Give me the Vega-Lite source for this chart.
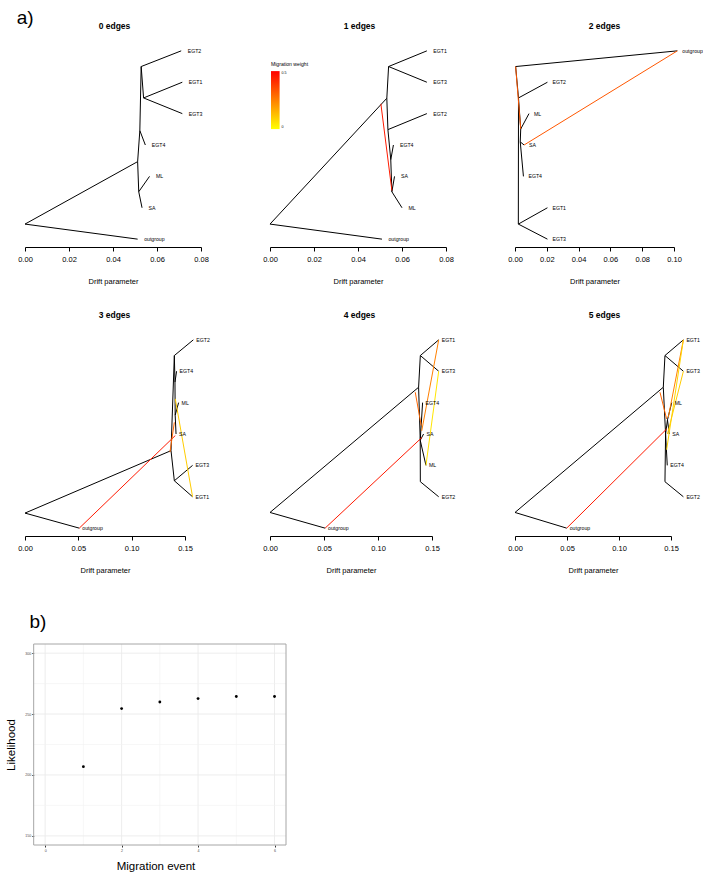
{
"$schema": "https://vega.github.io/schema/vega-lite/v6.json",
"padding": {"left": 5, "top": 8, "right": 0, "bottom": 0},
"config": {
  "font": "Liberation Sans",
  "view": {"stroke": null},
  "axis": {"labelFontSize": 7.5, "labelColor": "#000", "titleFontSize": 7.5, "titleFontWeight": "normal", "titleColor": "#000", "tickColor": "#000", "domainColor": "#000", "tickSize": 4, "labelPadding": 4, "titlePadding": 15, "grid": false, "labelFlush": false, "labelOverlap": false},
  "title": {"fontSize": 8.5, "fontWeight": "bold", "color": "#000", "offset": 13, "frame": "group", "anchor": "middle"},
  "legend": {"gradientVerticalMinLength": 10}
},
"datasets": {
  "e1": [
    {"x":0,"y":0.48,"x2":0.0512,"y2":0},
    {"x":0,"y":0.48,"x2":0.0512,"y2":2.47},
    {"x":0.0512,"y":2.47,"x2":0.0517,"y2":1.51},
    {"x":0.0517,"y":1.51,"x2":0.0566,"y2":2},
    {"x":0.0517,"y":1.51,"x2":0.0532,"y2":1},
    {"x":0.0512,"y":2.47,"x2":0.0522,"y2":3.46},
    {"x":0.0522,"y":3.46,"x2":0.0547,"y2":3},
    {"x":0.0522,"y":3.46,"x2":0.0528,"y2":5.5},
    {"x":0.0528,"y":5.5,"x2":0.071,"y2":6},
    {"x":0.0528,"y":5.5,"x2":0.0539,"y2":4.5},
    {"x":0.0539,"y":4.5,"x2":0.0715,"y2":5},
    {"x":0.0539,"y":4.5,"x2":0.0715,"y2":4}
  ],
  "t1": [
    {"x":0.071,"y":6,"label":"EGT2"},{"x":0.0715,"y":5,"label":"EGT1"},{"x":0.0715,"y":4,"label":"EGT3"},
    {"x":0.0547,"y":3,"label":"EGT4"},{"x":0.0566,"y":2,"label":"ML"},{"x":0.0532,"y":1,"label":"SA"},{"x":0.0512,"y":0,"label":"outgroup"}
  ],
  "e2": [
    {"x":0,"y":0.48,"x2":0.0509,"y2":0},
    {"x":0,"y":0.48,"x2":0.0531,"y2":4.49},
    {"x":0.0531,"y":4.49,"x2":0.0539,"y2":5.5},
    {"x":0.0539,"y":5.5,"x2":0.0713,"y2":6},
    {"x":0.0539,"y":5.5,"x2":0.0713,"y2":5},
    {"x":0.0531,"y":4.49,"x2":0.0536,"y2":3.49},
    {"x":0.0536,"y":3.49,"x2":0.0713,"y2":4},
    {"x":0.0536,"y":3.49,"x2":0.0549,"y2":2.53},
    {"x":0.0549,"y":2.53,"x2":0.0561,"y2":3},
    {"x":0.0549,"y":2.53,"x2":0.0554,"y2":1.51},
    {"x":0.0554,"y":1.51,"x2":0.0566,"y2":2},
    {"x":0.0554,"y":1.51,"x2":0.06,"y2":1}
  ],
  "m2": [{"x":0.0504,"y":4.31,"x2":0.0554,"y2":1.55,"w":0.45}],
  "t2": [
    {"x":0.0713,"y":6,"label":"EGT1"},{"x":0.0713,"y":5,"label":"EGT3"},{"x":0.0713,"y":4,"label":"EGT2"},
    {"x":0.0561,"y":3,"label":"EGT4"},{"x":0.0566,"y":2,"label":"SA"},{"x":0.06,"y":1,"label":"ML"},{"x":0.0509,"y":0,"label":"outgroup"}
  ],
  "e3": [
    {"x":0.0004,"y":5.5,"x2":0.1021,"y2":6},
    {"x":0.0004,"y":5.5,"x2":0.0022,"y2":4.5},
    {"x":0.0022,"y":4.5,"x2":0.0204,"y2":5},
    {"x":0.0022,"y":4.5,"x2":0.0021,"y2":0.48},
    {"x":0.0021,"y":0.48,"x2":0.0204,"y2":1},
    {"x":0.0021,"y":0.48,"x2":0.0204,"y2":0},
    {"x":0.0022,"y":4.5,"x2":0.0036,"y2":3.51},
    {"x":0.0036,"y":3.51,"x2":0.0088,"y2":4},
    {"x":0.0036,"y":3.51,"x2":0.0033,"y2":3.1},
    {"x":0.0033,"y":3.1,"x2":0.0057,"y2":3},
    {"x":0.0033,"y":3.1,"x2":0.0053,"y2":2}
  ],
  "m3": [{"x":0.0004,"y":5.5,"x2":0.0036,"y2":3.51,"w":0.33},{"x":0.0057,"y":3.0,"x2":0.1021,"y2":6,"w":0.33}],
  "t3": [
    {"x":0.1021,"y":6,"label":"outgroup"},{"x":0.0204,"y":5,"label":"EGT2"},{"x":0.0088,"y":4,"label":"ML"},
    {"x":0.0057,"y":3,"label":"SA"},{"x":0.0053,"y":2,"label":"EGT4"},{"x":0.0204,"y":1,"label":"EGT1"},{"x":0.0204,"y":0,"label":"EGT3"}
  ],
  "e4": [
    {"x":0,"y":0.48,"x2":0.0509,"y2":0},
    {"x":0,"y":0.48,"x2":0.1369,"y2":2.47},
    {"x":0.1369,"y":2.47,"x2":0.14,"y2":1.51},
    {"x":0.14,"y":1.51,"x2":0.1571,"y2":2},
    {"x":0.14,"y":1.51,"x2":0.1571,"y2":1},
    {"x":0.1369,"y":2.47,"x2":0.14,"y2":5.5},
    {"x":0.14,"y":5.5,"x2":0.1578,"y2":6},
    {"x":0.14,"y":5.5,"x2":0.1406,"y2":4.65},
    {"x":0.1406,"y":4.65,"x2":0.1421,"y2":5},
    {"x":0.1406,"y":4.65,"x2":0.1408,"y2":3.6},
    {"x":0.1408,"y":3.6,"x2":0.144,"y2":4},
    {"x":0.1408,"y":3.6,"x2":0.1416,"y2":3}
  ],
  "m4": [{"x":0.1409,"y":2.95,"x2":0.0509,"y2":0,"w":0.45},{"x":0.1409,"y":4.12,"x2":0.1571,"y2":1,"w":0.1},{"x":0.1359,"y":2.42,"x2":0.14,"y2":3.37,"w":0.3}],
  "t4": [
    {"x":0.1578,"y":6,"label":"EGT2"},{"x":0.1421,"y":5,"label":"EGT4"},{"x":0.144,"y":4,"label":"ML"},
    {"x":0.1416,"y":3,"label":"SA"},{"x":0.1571,"y":2,"label":"EGT3"},{"x":0.1571,"y":1,"label":"EGT1"},{"x":0.0509,"y":0,"label":"outgroup"}
  ],
  "e5": [
    {"x":0,"y":0.5,"x2":0.051,"y2":0},
    {"x":0,"y":0.5,"x2":0.1376,"y2":4.49},
    {"x":0.1376,"y":4.49,"x2":0.1392,"y2":5.5},
    {"x":0.1392,"y":5.5,"x2":0.1562,"y2":6},
    {"x":0.1392,"y":5.5,"x2":0.1562,"y2":5},
    {"x":0.1376,"y":4.49,"x2":0.1391,"y2":2.8},
    {"x":0.1391,"y":2.8,"x2":0.1392,"y2":1.48},
    {"x":0.1392,"y":1.48,"x2":0.1562,"y2":1},
    {"x":0.1391,"y":2.8,"x2":0.1413,"y2":4},
    {"x":0.1391,"y":2.8,"x2":0.1422,"y2":3},
    {"x":0.1391,"y":2.8,"x2":0.1444,"y2":2}
  ],
  "m5": [{"x":0.1407,"y":2.89,"x2":0.051,"y2":0,"w":0.45},{"x":0.1405,"y":3.1,"x2":0.1562,"y2":6,"w":0.25},{"x":0.1562,"y":5,"x2":0.1444,"y2":2,"w":0.05},{"x":0.1345,"y":4.33,"x2":0.14,"y2":3.27,"w":0.3}],
  "t5": [
    {"x":0.1562,"y":6,"label":"EGT1"},{"x":0.1562,"y":5,"label":"EGT3"},{"x":0.1413,"y":4,"label":"EGT4"},
    {"x":0.1422,"y":3,"label":"SA"},{"x":0.1444,"y":2,"label":"ML"},{"x":0.1562,"y":1,"label":"EGT2"},{"x":0.051,"y":0,"label":"outgroup"}
  ],
  "e6": [
    {"x":0,"y":0.5,"x2":0.0497,"y2":0},
    {"x":0,"y":0.5,"x2":0.1426,"y2":4.49},
    {"x":0.1426,"y":4.49,"x2":0.1442,"y2":5.5},
    {"x":0.1442,"y":5.5,"x2":0.1619,"y2":6},
    {"x":0.1442,"y":5.5,"x2":0.1619,"y2":5},
    {"x":0.1426,"y":4.49,"x2":0.1448,"y2":3.0},
    {"x":0.1448,"y":3.0,"x2":0.1442,"y2":1.48},
    {"x":0.1442,"y":1.48,"x2":0.1619,"y2":1},
    {"x":0.1448,"y":3.0,"x2":0.1464,"y2":2},
    {"x":0.1448,"y":3.0,"x2":0.1466,"y2":3.45},
    {"x":0.1466,"y":3.45,"x2":0.1507,"y2":4},
    {"x":0.1466,"y":3.45,"x2":0.1484,"y2":3}
  ],
  "m6": [{"x":0.1458,"y":3.16,"x2":0.0497,"y2":0,"w":0.45},{"x":0.1474,"y":3.53,"x2":0.1619,"y2":6,"w":0.25},{"x":0.1458,"y":2.5,"x2":0.1619,"y2":6,"w":0.08},{"x":0.1466,"y":3.0,"x2":0.1619,"y2":5,"w":0.1},{"x":0.1394,"y":4.33,"x2":0.1458,"y2":3.48,"w":0.3}],
  "t6": [
    {"x":0.1619,"y":6,"label":"EGT1"},{"x":0.1619,"y":5,"label":"EGT3"},{"x":0.1507,"y":4,"label":"ML"},
    {"x":0.1484,"y":3,"label":"SA"},{"x":0.1464,"y":2,"label":"EGT4"},{"x":0.1619,"y":1,"label":"EGT2"},{"x":0.0497,"y":0,"label":"outgroup"}
  ],
  "lik": [
    {"event":1,"likelihood":206.8},{"event":2,"likelihood":254.5},{"event":3,"likelihood":259.9},
    {"event":4,"likelihood":262.7},{"event":5,"likelihood":264.4},{"event":6,"likelihood":264.4}
  ]
},
"spacing": 38,
"vconcat": [
{
  "title": {"text": "a)", "anchor": "start", "frame": "bounds", "fontSize": 19, "fontWeight": "normal", "offset": -6, "dx": -1},
  "columns": 3,
  "bounds": "flush",
  "spacing": {"row": 85, "column": 69},
  "resolve": {"scale": {"color": "independent"}, "legend": {"color": "independent"}},
  "concat": [
  {
    "title": {"text": "0 edges", "dx": 1.5},
    "width": 176, "height": 204,
    "layer": [
      {"data": {"name": "e1"}, "mark": {"type": "rule", "color": "#000", "strokeWidth": 1},
       "encoding": {
         "x": {"field": "x", "type": "quantitative", "scale": {"domain": [0, 0.08], "nice": false, "zero": false}, "axis": {"values": [0, 0.02, 0.04, 0.06, 0.08], "format": ".2f", "title": "Drift parameter"}},
         "x2": {"field": "x2"},
         "y": {"field": "y", "type": "quantitative", "scale": {"domain": [-0.25, 6.25], "nice": false, "zero": false}, "axis": null},
         "y2": {"field": "y2"}}},
      {"data": {"name": "t1"}, "mark": {"type": "text", "align": "left", "baseline": "middle", "dx": 6.5, "fontSize": 5.2, "color": "#000"},
       "encoding": {
         "x": {"field": "x", "type": "quantitative", "scale": {"domain": [0, 0.08], "nice": false, "zero": false}, "axis": {"values": [0, 0.02, 0.04, 0.06, 0.08], "format": ".2f", "title": "Drift parameter"}},
         "y": {"field": "y", "type": "quantitative", "scale": {"domain": [-0.25, 6.25], "nice": false, "zero": false}, "axis": null},
         "text": {"field": "label"}}}
    ]
  },
  {
    "title": {"text": "1 edges", "dx": 1.5},
    "width": 176, "height": 204,
    "layer": [
      {"data": {"name": "e2"}, "mark": {"type": "rule", "color": "#000", "strokeWidth": 1},
       "encoding": {
         "x": {"field": "x", "type": "quantitative", "scale": {"domain": [0, 0.08], "nice": false, "zero": false}, "axis": {"values": [0, 0.02, 0.04, 0.06, 0.08], "format": ".2f", "title": "Drift parameter"}},
         "x2": {"field": "x2"},
         "y": {"field": "y", "type": "quantitative", "scale": {"domain": [-0.25, 6.25], "nice": false, "zero": false}, "axis": null},
         "y2": {"field": "y2"}}},
      {"data": {"name": "m2"}, "mark": {"type": "rule", "strokeWidth": 1},
       "encoding": {
         "x": {"field": "x", "type": "quantitative", "scale": {"domain": [0, 0.08], "nice": false, "zero": false}, "axis": {"values": [0, 0.02, 0.04, 0.06, 0.08], "format": ".2f", "title": "Drift parameter"}},
         "x2": {"field": "x2"},
         "y": {"field": "y", "type": "quantitative", "scale": {"domain": [-0.25, 6.25], "nice": false, "zero": false}, "axis": null},
         "y2": {"field": "y2"},
         "color": {"field": "w", "type": "quantitative", "scale": {"domain": [0, 0.5], "range": ["#ffff00", "#ff0000"], "interpolate": "rgb"},
           "legend": {"orient": "none", "legendX": 1, "legendY": 19, "direction": "vertical", "title": "Migration weight", "titleFontSize": 5.1, "titleFontWeight": "normal", "titleColor": "#000", "titlePadding": 4, "gradientLength": 58, "gradientThickness": 8.6, "gradientStrokeWidth": 0, "labelFontSize": 3.6, "labelColor": "#000", "labelOffset": 2, "values": [0, 0.5], "format": "~g", "padding": 0, "labelOverlap": false}}}},
      {"data": {"name": "t2"}, "mark": {"type": "text", "align": "left", "baseline": "middle", "dx": 6.5, "fontSize": 5.2, "color": "#000"},
       "encoding": {
         "x": {"field": "x", "type": "quantitative", "scale": {"domain": [0, 0.08], "nice": false, "zero": false}, "axis": {"values": [0, 0.02, 0.04, 0.06, 0.08], "format": ".2f", "title": "Drift parameter"}},
         "y": {"field": "y", "type": "quantitative", "scale": {"domain": [-0.25, 6.25], "nice": false, "zero": false}, "axis": null},
         "text": {"field": "label"}}}
    ]
  },
  {
    "title": {"text": "2 edges", "dx": 10},
    "width": 159, "height": 204,
    "layer": [
      {"data": {"name": "e3"}, "mark": {"type": "rule", "color": "#000", "strokeWidth": 1},
       "encoding": {
         "x": {"field": "x", "type": "quantitative", "scale": {"domain": [0, 0.1], "nice": false, "zero": false}, "axis": {"values": [0, 0.02, 0.04, 0.06, 0.08, 0.1], "format": ".2f", "title": "Drift parameter"}},
         "x2": {"field": "x2"},
         "y": {"field": "y", "type": "quantitative", "scale": {"domain": [-0.25, 6.25], "nice": false, "zero": false}, "axis": null},
         "y2": {"field": "y2"}}},
      {"data": {"name": "m3"}, "mark": {"type": "rule", "strokeWidth": 1},
       "encoding": {
         "x": {"field": "x", "type": "quantitative", "scale": {"domain": [0, 0.1], "nice": false, "zero": false}, "axis": {"values": [0, 0.02, 0.04, 0.06, 0.08, 0.1], "format": ".2f", "title": "Drift parameter"}},
         "x2": {"field": "x2"},
         "y": {"field": "y", "type": "quantitative", "scale": {"domain": [-0.25, 6.25], "nice": false, "zero": false}, "axis": null},
         "y2": {"field": "y2"},
         "color": {"field": "w", "type": "quantitative", "scale": {"domain": [0, 0.5], "range": ["#ffff00", "#ff0000"], "interpolate": "rgb"}, "legend": null}}},
      {"data": {"name": "t3"}, "mark": {"type": "text", "align": "left", "baseline": "middle", "dx": 5, "fontSize": 5.2, "color": "#000"},
       "encoding": {
         "x": {"field": "x", "type": "quantitative", "scale": {"domain": [0, 0.1], "nice": false, "zero": false}, "axis": {"values": [0, 0.02, 0.04, 0.06, 0.08, 0.1], "format": ".2f", "title": "Drift parameter"}},
         "y": {"field": "y", "type": "quantitative", "scale": {"domain": [-0.25, 6.25], "nice": false, "zero": false}, "axis": null},
         "text": {"field": "label"}}}
    ]
  },
  {
    "title": {"text": "3 edges", "dx": 9.5},
    "width": 160, "height": 204,
    "layer": [
      {"data": {"name": "e4"}, "mark": {"type": "rule", "color": "#000", "strokeWidth": 1},
       "encoding": {
         "x": {"field": "x", "type": "quantitative", "scale": {"domain": [0, 0.15], "nice": false, "zero": false}, "axis": {"values": [0, 0.05, 0.1, 0.15], "format": ".2f", "title": "Drift parameter"}},
         "x2": {"field": "x2"},
         "y": {"field": "y", "type": "quantitative", "scale": {"domain": [-0.25, 6.25], "nice": false, "zero": false}, "axis": null},
         "y2": {"field": "y2"}}},
      {"data": {"name": "m4"}, "mark": {"type": "rule", "strokeWidth": 1},
       "encoding": {
         "x": {"field": "x", "type": "quantitative", "scale": {"domain": [0, 0.15], "nice": false, "zero": false}, "axis": {"values": [0, 0.05, 0.1, 0.15], "format": ".2f", "title": "Drift parameter"}},
         "x2": {"field": "x2"},
         "y": {"field": "y", "type": "quantitative", "scale": {"domain": [-0.25, 6.25], "nice": false, "zero": false}, "axis": null},
         "y2": {"field": "y2"},
         "color": {"field": "w", "type": "quantitative", "scale": {"domain": [0, 0.5], "range": ["#ffff00", "#ff0000"], "interpolate": "rgb"}, "legend": null}}},
      {"data": {"name": "t4"}, "mark": {"type": "text", "align": "left", "baseline": "middle", "dx": 3, "fontSize": 5.2, "color": "#000"},
       "encoding": {
         "x": {"field": "x", "type": "quantitative", "scale": {"domain": [0, 0.15], "nice": false, "zero": false}, "axis": {"values": [0, 0.05, 0.1, 0.15], "format": ".2f", "title": "Drift parameter"}},
         "y": {"field": "y", "type": "quantitative", "scale": {"domain": [-0.25, 6.25], "nice": false, "zero": false}, "axis": null},
         "text": {"field": "label"}}}
    ]
  },
  {
    "title": {"text": "4 edges", "dx": 8.5},
    "width": 162, "height": 204,
    "layer": [
      {"data": {"name": "e5"}, "mark": {"type": "rule", "color": "#000", "strokeWidth": 1},
       "encoding": {
         "x": {"field": "x", "type": "quantitative", "scale": {"domain": [0, 0.15], "nice": false, "zero": false}, "axis": {"values": [0, 0.05, 0.1, 0.15], "format": ".2f", "title": "Drift parameter"}},
         "x2": {"field": "x2"},
         "y": {"field": "y", "type": "quantitative", "scale": {"domain": [-0.25, 6.25], "nice": false, "zero": false}, "axis": null},
         "y2": {"field": "y2"}}},
      {"data": {"name": "m5"}, "mark": {"type": "rule", "strokeWidth": 1},
       "encoding": {
         "x": {"field": "x", "type": "quantitative", "scale": {"domain": [0, 0.15], "nice": false, "zero": false}, "axis": {"values": [0, 0.05, 0.1, 0.15], "format": ".2f", "title": "Drift parameter"}},
         "x2": {"field": "x2"},
         "y": {"field": "y", "type": "quantitative", "scale": {"domain": [-0.25, 6.25], "nice": false, "zero": false}, "axis": null},
         "y2": {"field": "y2"},
         "color": {"field": "w", "type": "quantitative", "scale": {"domain": [0, 0.5], "range": ["#ffff00", "#ff0000"], "interpolate": "rgb"}, "legend": null}}},
      {"data": {"name": "t5"}, "mark": {"type": "text", "align": "left", "baseline": "middle", "dx": 3, "fontSize": 5.2, "color": "#000"},
       "encoding": {
         "x": {"field": "x", "type": "quantitative", "scale": {"domain": [0, 0.15], "nice": false, "zero": false}, "axis": {"values": [0, 0.05, 0.1, 0.15], "format": ".2f", "title": "Drift parameter"}},
         "y": {"field": "y", "type": "quantitative", "scale": {"domain": [-0.25, 6.25], "nice": false, "zero": false}, "axis": null},
         "text": {"field": "label"}}}
    ]
  },
  {
    "title": {"text": "5 edges", "dx": 11.5},
    "width": 156, "height": 204,
    "layer": [
      {"data": {"name": "e6"}, "mark": {"type": "rule", "color": "#000", "strokeWidth": 1},
       "encoding": {
         "x": {"field": "x", "type": "quantitative", "scale": {"domain": [0, 0.15], "nice": false, "zero": false}, "axis": {"values": [0, 0.05, 0.1, 0.15], "format": ".2f", "title": "Drift parameter"}},
         "x2": {"field": "x2"},
         "y": {"field": "y", "type": "quantitative", "scale": {"domain": [-0.25, 6.25], "nice": false, "zero": false}, "axis": null},
         "y2": {"field": "y2"}}},
      {"data": {"name": "m6"}, "mark": {"type": "rule", "strokeWidth": 1},
       "encoding": {
         "x": {"field": "x", "type": "quantitative", "scale": {"domain": [0, 0.15], "nice": false, "zero": false}, "axis": {"values": [0, 0.05, 0.1, 0.15], "format": ".2f", "title": "Drift parameter"}},
         "x2": {"field": "x2"},
         "y": {"field": "y", "type": "quantitative", "scale": {"domain": [-0.25, 6.25], "nice": false, "zero": false}, "axis": null},
         "y2": {"field": "y2"},
         "color": {"field": "w", "type": "quantitative", "scale": {"domain": [0, 0.5], "range": ["#ffff00", "#ff0000"], "interpolate": "rgb"}, "legend": null}}},
      {"data": {"name": "t6"}, "mark": {"type": "text", "align": "left", "baseline": "middle", "dx": 3, "fontSize": 5.2, "color": "#000"},
       "encoding": {
         "x": {"field": "x", "type": "quantitative", "scale": {"domain": [0, 0.15], "nice": false, "zero": false}, "axis": {"values": [0, 0.05, 0.1, 0.15], "format": ".2f", "title": "Drift parameter"}},
         "y": {"field": "y", "type": "quantitative", "scale": {"domain": [-0.25, 6.25], "nice": false, "zero": false}, "axis": null},
         "text": {"field": "label"}}}
    ]
  }
  ]
},
{
  "title": {"text": "b)", "anchor": "start", "frame": "group", "fontSize": 19, "fontWeight": "normal", "dx": 4.5, "offset": 12},
  "width": 261, "height": 201,
  "layer": [
    {"data": {"values": [{}]}, "mark": {"type": "rule", "color": "#f2f2f2", "strokeWidth": 0.6}, "encoding": {"x": {"datum": 1, "type": "quantitative", "scale": {"domain": [-0.527, 6.3], "nice": false, "zero": false}, "axis": {"values": [0, 2, 4, 6], "format": "d", "title": "Migration event", "domain": false, "grid": false, "tickSize": 2, "tickColor": "#333", "labelFontSize": 3.6, "labelColor": "#4d4d4d", "labelPadding": 1, "titleFontSize": 11.5, "titlePadding": 9}}}},
    {"data": {"values": [{}]}, "mark": {"type": "rule", "color": "#f2f2f2", "strokeWidth": 0.6}, "encoding": {"x": {"datum": 3, "type": "quantitative", "scale": {"domain": [-0.527, 6.3], "nice": false, "zero": false}, "axis": {"values": [0, 2, 4, 6], "format": "d", "title": "Migration event", "domain": false, "grid": false, "tickSize": 2, "tickColor": "#333", "labelFontSize": 3.6, "labelColor": "#4d4d4d", "labelPadding": 1, "titleFontSize": 11.5, "titlePadding": 9}}}},
    {"data": {"values": [{}]}, "mark": {"type": "rule", "color": "#f2f2f2", "strokeWidth": 0.6}, "encoding": {"x": {"datum": 5, "type": "quantitative", "scale": {"domain": [-0.527, 6.3], "nice": false, "zero": false}, "axis": {"values": [0, 2, 4, 6], "format": "d", "title": "Migration event", "domain": false, "grid": false, "tickSize": 2, "tickColor": "#333", "labelFontSize": 3.6, "labelColor": "#4d4d4d", "labelPadding": 1, "titleFontSize": 11.5, "titlePadding": 9}}}},
    {"data": {"values": [{}]}, "mark": {"type": "rule", "color": "#ebebeb", "strokeWidth": 0.9}, "encoding": {"x": {"datum": 0, "type": "quantitative", "scale": {"domain": [-0.527, 6.3], "nice": false, "zero": false}, "axis": {"values": [0, 2, 4, 6], "format": "d", "title": "Migration event", "domain": false, "grid": false, "tickSize": 2, "tickColor": "#333", "labelFontSize": 3.6, "labelColor": "#4d4d4d", "labelPadding": 1, "titleFontSize": 11.5, "titlePadding": 9}}}},
    {"data": {"values": [{}]}, "mark": {"type": "rule", "color": "#ebebeb", "strokeWidth": 0.9}, "encoding": {"x": {"datum": 2, "type": "quantitative", "scale": {"domain": [-0.527, 6.3], "nice": false, "zero": false}, "axis": {"values": [0, 2, 4, 6], "format": "d", "title": "Migration event", "domain": false, "grid": false, "tickSize": 2, "tickColor": "#333", "labelFontSize": 3.6, "labelColor": "#4d4d4d", "labelPadding": 1, "titleFontSize": 11.5, "titlePadding": 9}}}},
    {"data": {"values": [{}]}, "mark": {"type": "rule", "color": "#ebebeb", "strokeWidth": 0.9}, "encoding": {"x": {"datum": 4, "type": "quantitative", "scale": {"domain": [-0.527, 6.3], "nice": false, "zero": false}, "axis": {"values": [0, 2, 4, 6], "format": "d", "title": "Migration event", "domain": false, "grid": false, "tickSize": 2, "tickColor": "#333", "labelFontSize": 3.6, "labelColor": "#4d4d4d", "labelPadding": 1, "titleFontSize": 11.5, "titlePadding": 9}}}},
    {"data": {"values": [{}]}, "mark": {"type": "rule", "color": "#ebebeb", "strokeWidth": 0.9}, "encoding": {"x": {"datum": 6, "type": "quantitative", "scale": {"domain": [-0.527, 6.3], "nice": false, "zero": false}, "axis": {"values": [0, 2, 4, 6], "format": "d", "title": "Migration event", "domain": false, "grid": false, "tickSize": 2, "tickColor": "#333", "labelFontSize": 3.6, "labelColor": "#4d4d4d", "labelPadding": 1, "titleFontSize": 11.5, "titlePadding": 9}}}},
    {"data": {"values": [{}]}, "mark": {"type": "rule", "color": "#f2f2f2", "strokeWidth": 0.6}, "encoding": {"x": {"datum": -0.3, "type": "quantitative", "scale": {"domain": [-0.527, 6.3], "nice": false, "zero": false}, "axis": {"values": [0, 2, 4, 6], "format": "d", "title": "Migration event", "domain": false, "grid": false, "tickSize": 2, "tickColor": "#333", "labelFontSize": 3.6, "labelColor": "#4d4d4d", "labelPadding": 1, "titleFontSize": 11.5, "titlePadding": 9}}, "x2": {"datum": 6.3}, "y": {"datum": 175, "type": "quantitative", "scale": {"domain": [142.5, 307.5], "nice": false, "zero": false}, "axis": {"values": [150, 200, 250, 300], "format": "d", "title": "Likelihood", "domain": false, "grid": false, "offset": -8.8, "tickSize": 2, "tickColor": "#333", "labelFontSize": 3.6, "labelColor": "#4d4d4d", "labelPadding": 1, "titleFontSize": 11.5, "titlePadding": 8}}}},
    {"data": {"values": [{}]}, "mark": {"type": "rule", "color": "#f2f2f2", "strokeWidth": 0.6}, "encoding": {"x": {"datum": -0.3, "type": "quantitative", "scale": {"domain": [-0.527, 6.3], "nice": false, "zero": false}, "axis": {"values": [0, 2, 4, 6], "format": "d", "title": "Migration event", "domain": false, "grid": false, "tickSize": 2, "tickColor": "#333", "labelFontSize": 3.6, "labelColor": "#4d4d4d", "labelPadding": 1, "titleFontSize": 11.5, "titlePadding": 9}}, "x2": {"datum": 6.3}, "y": {"datum": 225, "type": "quantitative", "scale": {"domain": [142.5, 307.5], "nice": false, "zero": false}, "axis": {"values": [150, 200, 250, 300], "format": "d", "title": "Likelihood", "domain": false, "grid": false, "offset": -8.8, "tickSize": 2, "tickColor": "#333", "labelFontSize": 3.6, "labelColor": "#4d4d4d", "labelPadding": 1, "titleFontSize": 11.5, "titlePadding": 8}}}},
    {"data": {"values": [{}]}, "mark": {"type": "rule", "color": "#f2f2f2", "strokeWidth": 0.6}, "encoding": {"x": {"datum": -0.3, "type": "quantitative", "scale": {"domain": [-0.527, 6.3], "nice": false, "zero": false}, "axis": {"values": [0, 2, 4, 6], "format": "d", "title": "Migration event", "domain": false, "grid": false, "tickSize": 2, "tickColor": "#333", "labelFontSize": 3.6, "labelColor": "#4d4d4d", "labelPadding": 1, "titleFontSize": 11.5, "titlePadding": 9}}, "x2": {"datum": 6.3}, "y": {"datum": 275, "type": "quantitative", "scale": {"domain": [142.5, 307.5], "nice": false, "zero": false}, "axis": {"values": [150, 200, 250, 300], "format": "d", "title": "Likelihood", "domain": false, "grid": false, "offset": -8.8, "tickSize": 2, "tickColor": "#333", "labelFontSize": 3.6, "labelColor": "#4d4d4d", "labelPadding": 1, "titleFontSize": 11.5, "titlePadding": 8}}}},
    {"data": {"values": [{}]}, "mark": {"type": "rule", "color": "#ebebeb", "strokeWidth": 0.9}, "encoding": {"x": {"datum": -0.3, "type": "quantitative", "scale": {"domain": [-0.527, 6.3], "nice": false, "zero": false}, "axis": {"values": [0, 2, 4, 6], "format": "d", "title": "Migration event", "domain": false, "grid": false, "tickSize": 2, "tickColor": "#333", "labelFontSize": 3.6, "labelColor": "#4d4d4d", "labelPadding": 1, "titleFontSize": 11.5, "titlePadding": 9}}, "x2": {"datum": 6.3}, "y": {"datum": 150, "type": "quantitative", "scale": {"domain": [142.5, 307.5], "nice": false, "zero": false}, "axis": {"values": [150, 200, 250, 300], "format": "d", "title": "Likelihood", "domain": false, "grid": false, "offset": -8.8, "tickSize": 2, "tickColor": "#333", "labelFontSize": 3.6, "labelColor": "#4d4d4d", "labelPadding": 1, "titleFontSize": 11.5, "titlePadding": 8}}}},
    {"data": {"values": [{}]}, "mark": {"type": "rule", "color": "#ebebeb", "strokeWidth": 0.9}, "encoding": {"x": {"datum": -0.3, "type": "quantitative", "scale": {"domain": [-0.527, 6.3], "nice": false, "zero": false}, "axis": {"values": [0, 2, 4, 6], "format": "d", "title": "Migration event", "domain": false, "grid": false, "tickSize": 2, "tickColor": "#333", "labelFontSize": 3.6, "labelColor": "#4d4d4d", "labelPadding": 1, "titleFontSize": 11.5, "titlePadding": 9}}, "x2": {"datum": 6.3}, "y": {"datum": 200, "type": "quantitative", "scale": {"domain": [142.5, 307.5], "nice": false, "zero": false}, "axis": {"values": [150, 200, 250, 300], "format": "d", "title": "Likelihood", "domain": false, "grid": false, "offset": -8.8, "tickSize": 2, "tickColor": "#333", "labelFontSize": 3.6, "labelColor": "#4d4d4d", "labelPadding": 1, "titleFontSize": 11.5, "titlePadding": 8}}}},
    {"data": {"values": [{}]}, "mark": {"type": "rule", "color": "#ebebeb", "strokeWidth": 0.9}, "encoding": {"x": {"datum": -0.3, "type": "quantitative", "scale": {"domain": [-0.527, 6.3], "nice": false, "zero": false}, "axis": {"values": [0, 2, 4, 6], "format": "d", "title": "Migration event", "domain": false, "grid": false, "tickSize": 2, "tickColor": "#333", "labelFontSize": 3.6, "labelColor": "#4d4d4d", "labelPadding": 1, "titleFontSize": 11.5, "titlePadding": 9}}, "x2": {"datum": 6.3}, "y": {"datum": 250, "type": "quantitative", "scale": {"domain": [142.5, 307.5], "nice": false, "zero": false}, "axis": {"values": [150, 200, 250, 300], "format": "d", "title": "Likelihood", "domain": false, "grid": false, "offset": -8.8, "tickSize": 2, "tickColor": "#333", "labelFontSize": 3.6, "labelColor": "#4d4d4d", "labelPadding": 1, "titleFontSize": 11.5, "titlePadding": 8}}}},
    {"data": {"values": [{}]}, "mark": {"type": "rule", "color": "#ebebeb", "strokeWidth": 0.9}, "encoding": {"x": {"datum": -0.3, "type": "quantitative", "scale": {"domain": [-0.527, 6.3], "nice": false, "zero": false}, "axis": {"values": [0, 2, 4, 6], "format": "d", "title": "Migration event", "domain": false, "grid": false, "tickSize": 2, "tickColor": "#333", "labelFontSize": 3.6, "labelColor": "#4d4d4d", "labelPadding": 1, "titleFontSize": 11.5, "titlePadding": 9}}, "x2": {"datum": 6.3}, "y": {"datum": 300, "type": "quantitative", "scale": {"domain": [142.5, 307.5], "nice": false, "zero": false}, "axis": {"values": [150, 200, 250, 300], "format": "d", "title": "Likelihood", "domain": false, "grid": false, "offset": -8.8, "tickSize": 2, "tickColor": "#333", "labelFontSize": 3.6, "labelColor": "#4d4d4d", "labelPadding": 1, "titleFontSize": 11.5, "titlePadding": 8}}}},
    {"data": {"values": [{}]}, "mark": {"type": "rect", "filled": false, "color": "#a6a6a6", "strokeWidth": 1}, "encoding": {"x": {"datum": -0.3, "type": "quantitative", "scale": {"domain": [-0.527, 6.3], "nice": false, "zero": false}, "axis": {"values": [0, 2, 4, 6], "format": "d", "title": "Migration event", "domain": false, "grid": false, "tickSize": 2, "tickColor": "#333", "labelFontSize": 3.6, "labelColor": "#4d4d4d", "labelPadding": 1, "titleFontSize": 11.5, "titlePadding": 9}}, "x2": {"datum": 6.3}, "y": {"datum": 142.5, "type": "quantitative", "scale": {"domain": [142.5, 307.5], "nice": false, "zero": false}, "axis": {"values": [150, 200, 250, 300], "format": "d", "title": "Likelihood", "domain": false, "grid": false, "offset": -8.8, "tickSize": 2, "tickColor": "#333", "labelFontSize": 3.6, "labelColor": "#4d4d4d", "labelPadding": 1, "titleFontSize": 11.5, "titlePadding": 8}}, "y2": {"datum": 307.5}}},
    {"data": {"name": "lik"}, "mark": {"type": "circle", "size": 8, "color": "#000", "opacity": 1},
     "encoding": {
       "x": {"field": "event", "type": "quantitative", "scale": {"domain": [-0.527, 6.3], "nice": false, "zero": false}, "axis": {"values": [0, 2, 4, 6], "format": "d", "title": "Migration event", "domain": false, "grid": false, "tickSize": 2, "tickColor": "#333", "labelFontSize": 3.6, "labelColor": "#4d4d4d", "labelPadding": 1, "titleFontSize": 11.5, "titlePadding": 9}},
       "y": {"field": "likelihood", "type": "quantitative", "scale": {"domain": [142.5, 307.5], "nice": false, "zero": false}, "axis": {"values": [150, 200, 250, 300], "format": "d", "title": "Likelihood", "domain": false, "grid": false, "offset": -8.8, "tickSize": 2, "tickColor": "#333", "labelFontSize": 3.6, "labelColor": "#4d4d4d", "labelPadding": 1, "titleFontSize": 11.5, "titlePadding": 8}}}}
  ]
}
]
}
